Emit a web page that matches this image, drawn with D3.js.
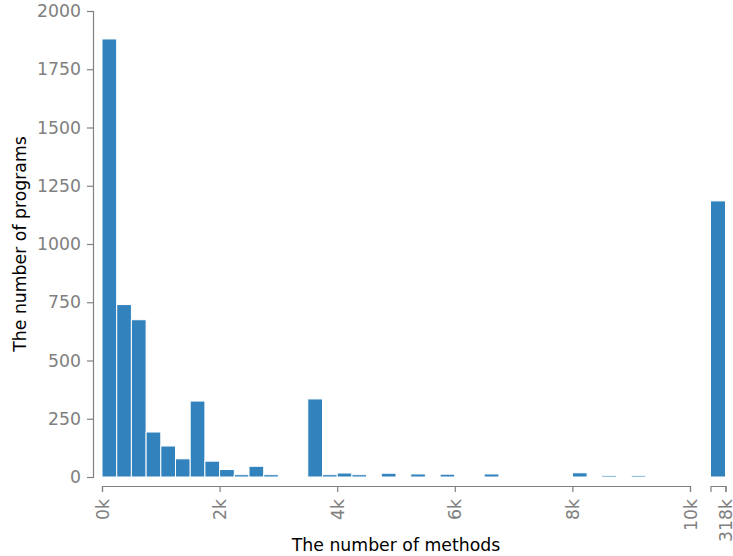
<!DOCTYPE html>
<html>
<head>
<meta charset="utf-8">
<script src="https://cdn.jsdelivr.net/npm/d3@7"></script>
<style>
  body { margin: 0; background: #fff; }
  text { font-family: "DejaVu Sans", sans-serif; }
</style>
</head>
<body>
<div id="chart"></div>
<script>
// histogram of methods per program, bins of 250 methods from 0 to 10k
const binWidth = 250;
const binCounts = [1880, 740, 675, 193, 133, 78, 326, 68, 32, 10,
                   46, 10, 3, 0, 335, 10, 17, 10, 0, 16,
                   0, 13, 0, 12, 4, 0, 13, 2, 0, 0,
                   0, 0, 18, 0, 7, 0, 7, 2, 0, 0];
// the outlier bin, drawn on its own broken segment
const outlierStart = 317750;
const outlierCount = 1185;
const xTicks = [0, 2000, 4000, 6000, 8000, 10000];
const yTicks = [0, 250, 500, 750, 1000, 1250, 1500, 1750, 2000];

const width = 733, height = 556;
const grey = "#808080";
const barColor = "#3182bd";
const fontSize = "17.3px";

const svg = d3.select("#chart").append("svg")
    .attr("width", width)
    .attr("height", height);

const bins = binCounts.map((c, i) => ({x0: i * binWidth, x1: (i + 1) * binWidth, count: c}));

const x = d3.scaleLinear().domain([0, 10000]).range([102, 690]);
const xBreak = d3.scaleLinear().domain([outlierStart, outlierStart + binWidth]).range([710.5, 725.5]);
const y = d3.scaleLinear().domain([0, 2000]).range([477, 11]);

// bars
svg.append("g")
    .selectAll("rect")
    .data(bins)
    .join("rect")
    .attr("x", d => x(d.x0))
    .attr("width", d => x(d.x1) - x(d.x0))
    .attr("y", d => y(d.count))
    .attr("height", d => y(0) - y(d.count))
    .attr("fill", barColor)
    .attr("stroke", "#fff")
    .attr("stroke-width", 1);

svg.append("rect")
    .attr("x", xBreak(outlierStart))
    .attr("width", xBreak(outlierStart + binWidth) - xBreak(outlierStart))
    .attr("y", y(outlierCount))
    .attr("height", y(0) - y(outlierCount))
    .attr("fill", barColor)
    .attr("stroke", "#fff")
    .attr("stroke-width", 1);

function styleAxis(g) {
    g.selectAll("path, line").attr("stroke", grey).attr("stroke-width", 1.2);
    g.selectAll("text").attr("fill", grey).style("font-size", fontSize);
}

function rotateLabels(g) {
    g.selectAll(".tick text")
        .attr("transform", "rotate(-90)")
        .attr("x", -13)
        .attr("y", 0)
        .attr("dy", "0.35em")
        .attr("text-anchor", "end");
}

// y axis
svg.append("g")
    .attr("transform", "translate(93,0)")
    .call(d3.axisLeft(y).tickValues(yTicks).tickSize(6).tickPadding(6).tickFormat(d3.format("d")))
    .call(styleAxis);

// x axis, main segment
svg.append("g")
    .attr("transform", "translate(0,486)")
    .call(d3.axisBottom(x).tickValues(xTicks).tickSize(6).tickFormat(d => d / 1000 + "k"))
    .call(styleAxis)
    .call(rotateLabels);

// x axis, broken segment
svg.append("g")
    .attr("transform", "translate(0,486)")
    .call(d3.axisBottom(xBreak).tickValues([outlierStart + binWidth]).tickSize(6)
        .tickFormat(d => Math.round(d / 1000) + "k"))
    .call(styleAxis)
    .call(rotateLabels);

// axis titles
svg.append("text")
    .attr("x", 396)
    .attr("y", 550.5)
    .attr("text-anchor", "middle")
    .attr("fill", "#000")
    .style("font-size", fontSize)
    .text("The number of methods");

svg.append("text")
    .attr("transform", "translate(25.5,244) rotate(-90)")
    .attr("text-anchor", "middle")
    .attr("fill", "#000")
    .style("font-size", fontSize)
    .text("The number of programs");
</script>
</body>
</html>
